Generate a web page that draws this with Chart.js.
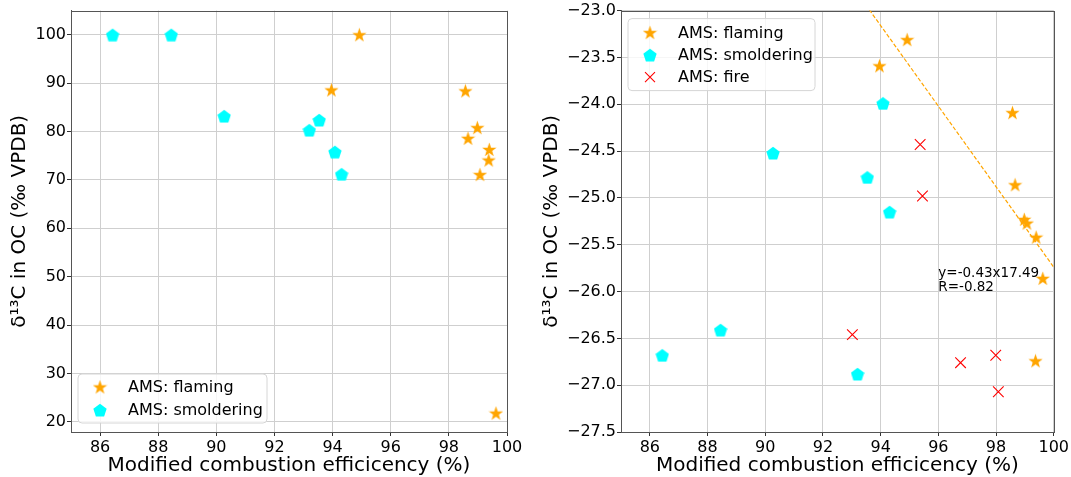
<!DOCTYPE html>
<html>
<head>
<meta charset="utf-8">
<script src="https://cdn.jsdelivr.net/npm/chart.js@4.4.0/dist/chart.umd.min.js"></script>
<style>
  html, body { margin: 0; padding: 0; background: #fff; }
  #wrap { position: relative; width: 1071px; height: 477px; }
  #left { position: absolute; left: 0; top: 0; }
  #right { position: absolute; left: 540px; top: 0; }
</style>
</head>
<body>
<div id="wrap">
  <canvas id="left" width="540" height="477"></canvas>
  <canvas id="right" width="531" height="477"></canvas>
</div>
<script>
// MCE (%) per sample
const flamingMce  = [94.92, 93.96, 98.57, 98.98, 98.66, 99.39, 99.37, 99.07, 99.62];
const smolderMce  = [86.43, 88.45, 90.27, 93.20, 93.54, 94.08, 94.31];
const fireMce     = [95.37, 95.45, 93.02, 96.77, 97.99, 98.08];

// left panel values
const flamingLeft = [100, 88.6, 88.4, 80.8, 78.6, 76.3, 74.1, 71.1, 21.8];
const smolderLeft = [100, 100, 83.2, 80.3, 82.4, 75.8, 71.2];

// right panel: d13C of OC
const flamingD13C = [-23.31, -23.59, -24.09, -25.23, -24.86, -25.42, -26.74, -25.27, -25.86];
const smolderD13C = [-26.68, -26.41, -24.52, -26.88, -24.78, -23.99, -25.15];
const fireD13C    = [-24.43, -24.98, -26.46, -26.76, -26.68, -27.07];

// fitted line for flaming (as drawn)
const fitSlope = -0.43;
const fitIntercept = 17.26;
const fitX = [93, 100];
const fitText = ['y=-0.43x17.49', 'R=-0.82'];

const xTicks = [86, 88, 90, 92, 94, 96, 98, 100];
const leftYTicks = [20, 30, 40, 50, 60, 70, 80, 90, 100];
const rightYTicks = [-27.5, -27.0, -26.5, -26.0, -25.5, -25.0, -24.5, -24.0, -23.5, -23.0];

const labels = ['AMS: flaming', 'AMS: smoldering', 'AMS: fire'];
const FONT = 'DejaVu Sans';
const ORANGE = '#ffa500', CYAN = '#00ffff', RED = '#ff0000';

function starImage(size, color) {
  const c = document.createElement('canvas');
  c.width = c.height = size;
  const g = c.getContext('2d');
  const r = size / 2, ri = r * 0.40;
  g.beginPath();
  for (let i = 0; i < 10; i++) {
    const a = -Math.PI / 2 + i * Math.PI / 5;
    const rr = i % 2 ? ri : r;
    const px = r + rr * Math.cos(a), py = r + 0.6 + rr * Math.sin(a);
    i ? g.lineTo(px, py) : g.moveTo(px, py);
  }
  g.closePath();
  g.fillStyle = color;
  g.fill();
  return c;
}

function pentagonImage(size, color) {
  const c = document.createElement('canvas');
  c.width = c.height = size;
  const g = c.getContext('2d');
  const r = size / 2;
  g.beginPath();
  for (let i = 0; i < 5; i++) {
    const a = -Math.PI / 2 + i * 2 * Math.PI / 5;
    const px = r + r * Math.cos(a), py = r + 0.8 + r * Math.sin(a);
    i ? g.lineTo(px, py) : g.moveTo(px, py);
  }
  g.closePath();
  g.fillStyle = color;
  g.fill();
  return c;
}

const starImg = starImage(15, ORANGE);
const pentImg = pentagonImage(14, CYAN);

const pts = (xs, ys) => xs.map((x, i) => ({ x: x, y: ys[i] }));

function frameAndLegend(legendCfg, note) {
  return {
    id: 'frameAndLegend',
    beforeDatasetsDraw(chart) {
      const { ctx, chartArea: a } = chart;
      ctx.save();
      ctx.strokeStyle = '#555';
      ctx.lineWidth = 1;
      ctx.strokeRect(Math.round(a.left) + 0.5, Math.round(a.top) + 0.5,
        Math.round(a.right - a.left), Math.round(a.bottom - a.top));
      ctx.restore();
    },
    afterDraw(chart) {
      const { ctx, chartArea: a } = chart;
      ctx.save();
      // legend box
      const L = legendCfg;
      const bx = a.left + L.dx;
      const by = L.fromBottom ? a.bottom - L.dy - L.h : a.top + L.dy;
      const rad = 4;
      ctx.beginPath();
      ctx.moveTo(bx + rad, by);
      ctx.arcTo(bx + L.w, by, bx + L.w, by + L.h, rad);
      ctx.arcTo(bx + L.w, by + L.h, bx, by + L.h, rad);
      ctx.arcTo(bx, by + L.h, bx, by, rad);
      ctx.arcTo(bx, by, bx + L.w, by, rad);
      ctx.closePath();
      ctx.fillStyle = 'rgba(255,255,255,0.8)';
      ctx.fill();
      ctx.strokeStyle = '#d6d6d6';
      ctx.lineWidth = 1;
      ctx.stroke();
      ctx.font = '16px "' + FONT + '"';
      ctx.fillStyle = '#000';
      ctx.textBaseline = 'middle';
      L.items.forEach((it, i) => {
        const cy = by + L.first + i * L.row;
        const mx = bx + 22;
        if (it.img) {
          ctx.drawImage(it.img, mx - it.img.width / 2, cy - it.img.height / 2);
        } else {
          ctx.strokeStyle = RED;
          ctx.lineWidth = 1.1;
          ctx.beginPath();
          ctx.moveTo(mx - 5, cy - 5); ctx.lineTo(mx + 5, cy + 5);
          ctx.moveTo(mx - 5, cy + 5); ctx.lineTo(mx + 5, cy - 5);
          ctx.stroke();
        }
        ctx.fillText(it.text, bx + 50, cy + 1);
      });
      // fit text
      if (note) {
        const x = chart.scales.x.getPixelForValue(note.x);
        const y = chart.scales.y.getPixelForValue(note.y);
        ctx.font = '13.5px "' + FONT + '"';
        ctx.textBaseline = 'alphabetic';
        ctx.fillStyle = '#000';
        note.lines.forEach((t, i) => ctx.fillText(t, x, y + i * 14));
      }
      ctx.restore();
    }
  };
}

function scales(yMin, yMax, yTicks, yFmt, yWidth, yTitlePad) {
  return {
    x: {
      type: 'linear', min: 85, max: 100,
      afterBuildTicks: s => { s.ticks = xTicks.map(v => ({ value: v })); },
      afterFit: s => { s.height = 45; },
      ticks: { font: { family: FONT, size: 16 }, color: '#000', padding: 2, autoSkip: false, maxRotation: 0 },
      grid: { color: '#cfcfcf', lineWidth: 1, tickColor: '#333', tickLength: 4 },
      border: { color: '#555' },
      title: { display: true, text: 'Modified combustion efficicency (%)', color: '#000',
               font: { family: FONT, size: 20 }, padding: { top: 0, bottom: -1 } }
    },
    y: {
      type: 'linear', min: yMin, max: yMax,
      afterBuildTicks: s => { s.ticks = yTicks.map(v => ({ value: v })); },
      afterFit: s => { s.width = yWidth; },
      ticks: { font: { family: FONT, size: 16 }, color: '#000', padding: 1, autoSkip: false, callback: yFmt },
      grid: { color: '#cfcfcf', lineWidth: 1, tickColor: '#333', tickLength: 4 },
      border: { color: '#555' },
      title: { display: true, text: 'δ¹³C in OC (‰ VPDB)', color: '#000',
               font: { family: FONT, size: 20 }, padding: { top: yTitlePad, bottom: 0 } }
    }
  };
}

const common = {
  responsive: false,
  animation: false,
  plugins: { legend: { display: false }, tooltip: { enabled: false } }
};

new Chart(document.getElementById('left'), {
  type: 'scatter',
  data: {
    datasets: [
      { label: labels[0], data: pts(flamingMce, flamingLeft), pointStyle: starImg, pointRadius: 7 },
      { label: labels[1], data: pts(smolderMce, smolderLeft), pointStyle: pentImg, pointRadius: 7 }
    ]
  },
  options: Object.assign({}, common, {
    layout: { padding: { left: 0, top: 7, right: 33, bottom: 0 } },
    scales: scales(17.9, 105, leftYTicks, v => String(v), 71, 8)
  }),
  plugins: [frameAndLegend({
    dx: 7, dy: 9, w: 189, h: 49, fromBottom: true, first: 13, row: 23,
    items: [{ img: starImg, text: labels[0] }, { img: pentImg, text: labels[1] }]
  }, null)]
});

const minusFmt = v => (v < 0 ? '\u2212' : '') + Math.abs(v).toFixed(1);

new Chart(document.getElementById('right'), {
  type: 'scatter',
  data: {
    datasets: [
      { label: labels[0], data: pts(flamingMce, flamingD13C), pointStyle: starImg, pointRadius: 7 },
      { label: labels[1], data: pts(smolderMce, smolderD13C), pointStyle: pentImg, pointRadius: 7 },
      { label: labels[2], data: pts(fireMce, fireD13C), pointStyle: 'crossRot', pointRadius: 7.5,
        borderColor: RED, borderWidth: 1.1, backgroundColor: RED },
      { label: 'fit', data: fitX.map(x => ({ x: x, y: fitSlope * x + fitIntercept })),
        showLine: true, pointRadius: 0, borderColor: ORANGE, borderWidth: 1.2, borderDash: [4, 2], fill: false }
    ]
  },
  options: Object.assign({}, common, {
    layout: { padding: { left: 0, top: 10, right: 17, bottom: 0 } },
    scales: scales(-27.5, -23.0, rightYTicks, minusFmt, 81, 0)
  }),
  plugins: [frameAndLegend({
    dx: 7, dy: 8, w: 187, h: 72, fromBottom: false, first: 14, row: 22.3,
    items: [{ img: starImg, text: labels[0] }, { img: pentImg, text: labels[1] }, { img: null, text: labels[2] }]
  }, { x: 96.0, y: -25.84, lines: fitText })]
});
</script>
</body>
</html>
